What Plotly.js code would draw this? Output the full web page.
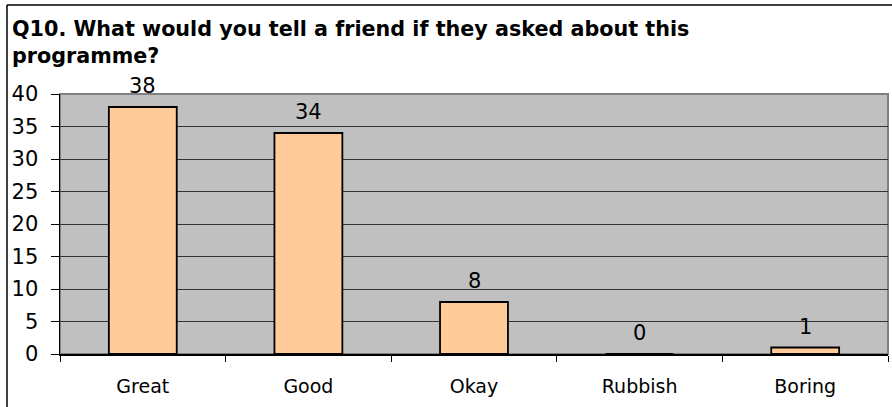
<!DOCTYPE html>
<html>
<head>
<meta charset="utf-8">
<script src="https://cdn.plot.ly/plotly-3.0.1.min.js"></script>
<style>html,body{margin:0;padding:0;background:#fff;}#chart{width:892px;height:407px;}</style>
</head>
<body>
<div id="chart"></div>
<script>
const titleLines = ["Q10. What would you tell a friend if they asked about this", "programme?"];
const categories = ["Great", "Good", "Okay", "Rubbish", "Boring"];
const counts = [38, 34, 8, 0, 1];
const yTicks = [0, 5, 10, 15, 20, 25, 30, 35, 40];

const font = "'DejaVu Sans', Arial, sans-serif";

const trace = {
  type: "bar",
  x: categories,
  y: counts,
  marker: {color: "#FFCC99", line: {color: "#000000", width: 1.8}},
  hoverinfo: "none"
};

const annotations = categories.map((c, i) => ({
  x: c, y: counts[i], xref: "x", yref: "y",
  text: String(counts[i]), showarrow: false,
  yanchor: "middle", yshift: 21,
  font: {family: font, size: 21, color: "#000"}
}));

const layout = {
  width: 892, height: 407,
  margin: {l: 60, r: 4, t: 94, b: 53, pad: 0},
  paper_bgcolor: "#ffffff",
  plot_bgcolor: "#C0C0C0",
  showlegend: false,
  bargap: 0.59,
  title: {
    text: titleLines.join("<br>"),
    font: {family: font, size: 20.7, color: "#000", weight: "bold"},
    x: 12 / 892, xanchor: "left", xref: "container",
    y: 1 - 36 / 407, yanchor: "top", yref: "container"
  },
  xaxis: {
    type: "category",
    showline: true, linecolor: "#000", linewidth: 1.5,
    ticks: "outside", tickson: "boundaries", ticklen: 6, tickcolor: "#000", tickwidth: 1,
    ticklabelstandoff: 15,
    tickfont: {family: font, size: 19, color: "#000"},
    showgrid: false, zeroline: false, fixedrange: true
  },
  yaxis: {
    range: [0, 40], tickvals: yTicks,
    showline: true, linecolor: "#000", linewidth: 1.5,
    ticks: "outside", ticklen: 8, tickcolor: "#000", tickwidth: 1,
    ticklabelstandoff: 8,
    tickfont: {family: font, size: 21, color: "#000"},
    showgrid: true, gridcolor: "#333333", gridwidth: 1,
    zeroline: false, fixedrange: true
  },
  annotations: annotations,
  shapes: [
    {type: "rect", xref: "paper", yref: "paper", x0: 0, x1: 1, y0: 0, y1: 1,
     line: {color: "#808080", width: 2}, layer: "below"},
    {type: "line", xref: "paper", yref: "paper", x0: -53 / 828, x1: 1.2, y0: 349 / 260, y1: 349 / 260,
     line: {color: "#000", width: 1.5}},
    {type: "line", xref: "paper", yref: "paper", x0: -53 / 828, x1: -53 / 828, y0: -0.5, y1: 349 / 260,
     line: {color: "#000", width: 1.5}}
  ]
};

Plotly.newPlot("chart", [trace], layout, {displayModeBar: false, staticPlot: true});
</script>
</body>
</html>
